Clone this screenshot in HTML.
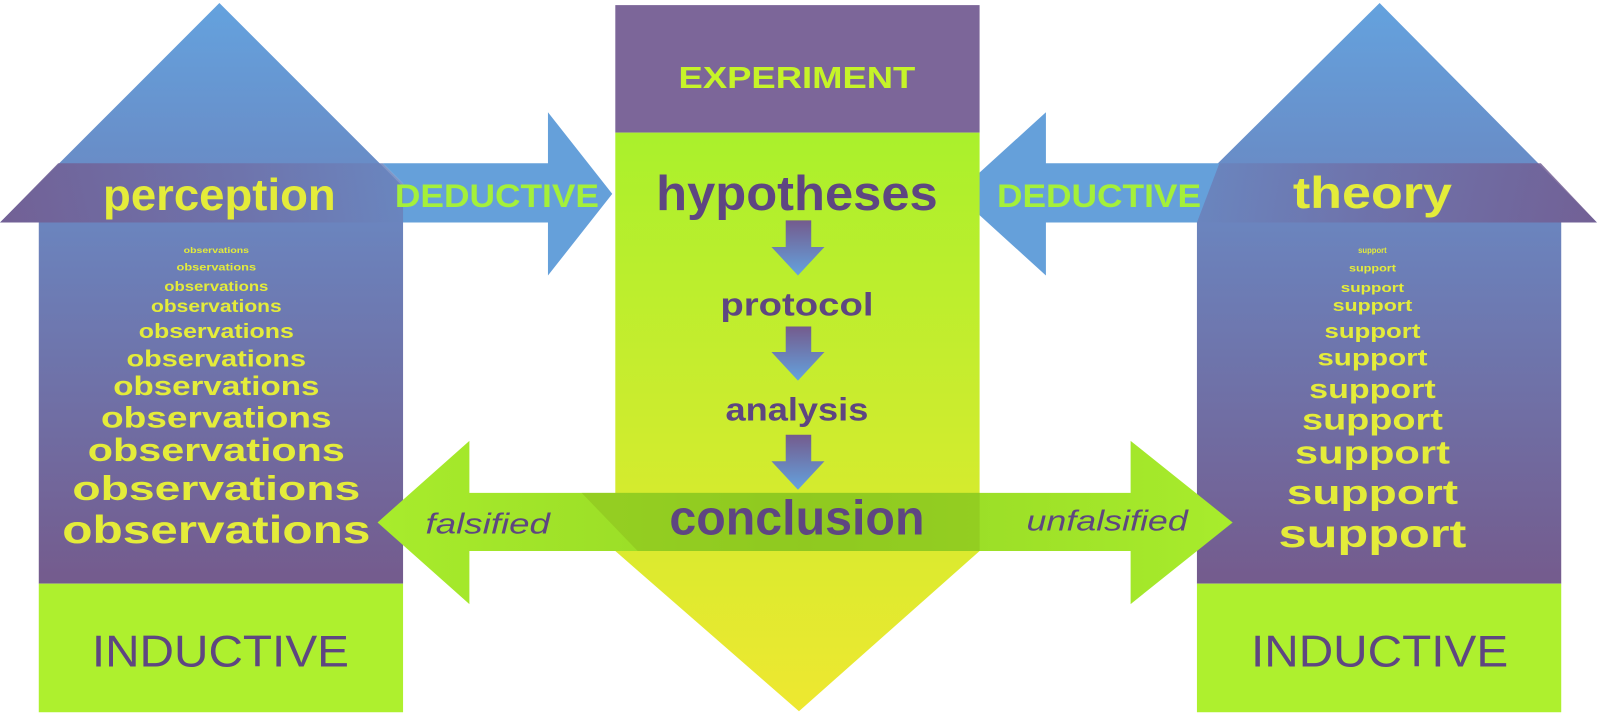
<!DOCTYPE html>
<html><head><meta charset="utf-8"><style>
html,body{margin:0;padding:0;background:#fff;width:1600px;height:715px;overflow:hidden}
svg{display:block}
text{font-family:"Liberation Sans",sans-serif;font-weight:bold}
text.n{font-weight:normal}
text.i{font-weight:normal;font-style:italic}
</style></head><body>
<svg width="1600" height="715" viewBox="0 0 1568 700.7" preserveAspectRatio="none" xmlns="http://www.w3.org/2000/svg">
<defs>
<linearGradient id="bp" x1="0" y1="0" x2="0" y2="1"><stop offset="0" stop-color="#64a2de"/><stop offset="0.45" stop-color="#6c7fb8"/><stop offset="1" stop-color="#745b8d"/></linearGradient>
<linearGradient id="band" x1="0" y1="0" x2="1" y2="0"><stop offset="0" stop-color="#735a8e"/><stop offset="0.6" stop-color="#6f70a8"/><stop offset="1" stop-color="#6a85be"/></linearGradient>
<linearGradient id="bandR" x1="1" y1="0" x2="0" y2="0"><stop offset="0" stop-color="#735a8e"/><stop offset="0.6" stop-color="#6f70a8"/><stop offset="1" stop-color="#6a85be"/></linearGradient>
<linearGradient id="gy" x1="0" y1="0" x2="0" y2="1"><stop offset="0" stop-color="#aaf02c"/><stop offset="1" stop-color="#eee830"/></linearGradient>
<linearGradient id="sm" x1="0" y1="0" x2="0" y2="1"><stop offset="0" stop-color="#745b8d"/><stop offset="1" stop-color="#64a2de"/></linearGradient>
<linearGradient id="gh" x1="0" y1="0" x2="1" y2="0"><stop offset="0" stop-color="#a8ec2c"/><stop offset="0.5" stop-color="#94d624"/><stop offset="1" stop-color="#a8ec2c"/></linearGradient>
</defs>
<polygon points="215,3 430,218 395,218 395,572 38,572 38,218 0,218" fill="url(#bp)"/>
<polygon points="57,160 375,160 395,180 395,218 0,218" fill="url(#band)" opacity="0.85"/>
<rect x="38" y="572" width="357" height="126" fill="#aef02e"/>
<polygon points="1352,3 1565,218 1530,218 1530,572 1173,572 1173,218 1135,218" fill="url(#bp)"/>
<polygon points="1195,160 1510,160 1565,218 1173,218" fill="url(#bandR)" opacity="0.85"/>
<rect x="1173" y="572" width="357" height="126" fill="#aef02e"/>
<polygon points="375,160 537,160 537,110 600,190 537,270 537,218 395,218 395,180" fill="#65a0da"/>
<polygon points="1195,160 1025,160 1025,110 937,190 1025,270 1025,218 1173,218" fill="#65a0da"/>
<rect x="603" y="5" width="357" height="125" fill="#7c6699"/>
<polygon points="603,130 960,130 960,540 783,697 603,540" fill="url(#gy)"/>
<polygon points="370,512 460,432 460,483 1108,483 1108,432 1208,512 1108,592 1108,540 460,540 460,592" fill="url(#gh)"/>
<polygon points="570,483 960,483 960,540 625,540" fill="#8cbf1e" opacity="0.55"/>
<g fill="url(#sm)">
<polygon points="770,216 795,216 795,242 808,242 782,270 756,242 770,242"/>
<polygon points="770,320 795,320 795,345 808,345 782,373 756,345 770,345"/>
<polygon points="770,426 795,426 795,452 808,452 782,480 756,452 770,452"/>
</g>
<text x="215" y="206" text-anchor="middle" font-size="44" fill="#e4ec3a" textLength="228" lengthAdjust="spacingAndGlyphs">perception</text>
<text x="487" y="203" text-anchor="middle" font-size="32" fill="#a4f03a" textLength="200" lengthAdjust="spacingAndGlyphs">DEDUCTIVE</text>
<text x="1077" y="203" text-anchor="middle" font-size="32" fill="#a4f03a" textLength="200" lengthAdjust="spacingAndGlyphs">DEDUCTIVE</text>
<text x="1345" y="204" text-anchor="middle" font-size="44" fill="#e4ec3a" textLength="156" lengthAdjust="spacingAndGlyphs">theory</text>
<text x="781" y="86" text-anchor="middle" font-size="30" fill="#c6f428" textLength="232" lengthAdjust="spacingAndGlyphs">EXPERIMENT</text>
<text x="781" y="206" text-anchor="middle" font-size="48" fill="#5e4681" textLength="276" lengthAdjust="spacingAndGlyphs">hypotheses</text>
<text x="781" y="309" text-anchor="middle" font-size="32" fill="#5e4681" textLength="150" lengthAdjust="spacingAndGlyphs">protocol</text>
<text x="781" y="412" text-anchor="middle" font-size="32" fill="#5e4681" textLength="140" lengthAdjust="spacingAndGlyphs">analysis</text>
<text x="781" y="524" text-anchor="middle" font-size="48" fill="#5e4681" textLength="250" lengthAdjust="spacingAndGlyphs">conclusion</text>
<text class="i" x="478" y="523" text-anchor="middle" font-size="28" fill="#5e4681" textLength="122" lengthAdjust="spacingAndGlyphs">falsified</text>
<text class="i" x="1085" y="520" text-anchor="middle" font-size="28" fill="#5e4681" textLength="158" lengthAdjust="spacingAndGlyphs">unfalsified</text>
<text class="n" x="216" y="653" text-anchor="middle" font-size="44" fill="#5e4681" textLength="252" lengthAdjust="spacingAndGlyphs">INDUCTIVE</text>
<text class="n" x="1352" y="653" text-anchor="middle" font-size="44" fill="#5e4681" textLength="252" lengthAdjust="spacingAndGlyphs">INDUCTIVE</text>
<g fill="#e4ec3a" text-anchor="middle">
<text x="212" y="248" font-size="8" textLength="64" lengthAdjust="spacingAndGlyphs">observations</text>
<text x="212" y="265" font-size="10" textLength="78" lengthAdjust="spacingAndGlyphs">observations</text>
<text x="212" y="285" font-size="14" textLength="102" lengthAdjust="spacingAndGlyphs">observations</text>
<text x="212" y="306" font-size="17" textLength="128" lengthAdjust="spacingAndGlyphs">observations</text>
<text x="212" y="331" font-size="20" textLength="152" lengthAdjust="spacingAndGlyphs">observations</text>
<text x="212" y="359" font-size="23" textLength="176" lengthAdjust="spacingAndGlyphs">observations</text>
<text x="212" y="387" font-size="26" textLength="202" lengthAdjust="spacingAndGlyphs">observations</text>
<text x="212" y="419" font-size="29" textLength="226" lengthAdjust="spacingAndGlyphs">observations</text>
<text x="212" y="452" font-size="32" textLength="252" lengthAdjust="spacingAndGlyphs">observations</text>
<text x="212" y="490" font-size="34" textLength="282" lengthAdjust="spacingAndGlyphs">observations</text>
<text x="212" y="532" font-size="38" textLength="302" lengthAdjust="spacingAndGlyphs">observations</text>
<text x="1345" y="248" font-size="8" textLength="28" lengthAdjust="spacingAndGlyphs">support</text>
<text x="1345" y="266" font-size="10" textLength="46" lengthAdjust="spacingAndGlyphs">support</text>
<text x="1345" y="286" font-size="13" textLength="62" lengthAdjust="spacingAndGlyphs">support</text>
<text x="1345" y="305" font-size="16" textLength="78" lengthAdjust="spacingAndGlyphs">support</text>
<text x="1345" y="331" font-size="20" textLength="94" lengthAdjust="spacingAndGlyphs">support</text>
<text x="1345" y="358" font-size="23" textLength="108" lengthAdjust="spacingAndGlyphs">support</text>
<text x="1345" y="390" font-size="26" textLength="124" lengthAdjust="spacingAndGlyphs">support</text>
<text x="1345" y="421" font-size="29" textLength="138" lengthAdjust="spacingAndGlyphs">support</text>
<text x="1345" y="454" font-size="32" textLength="152" lengthAdjust="spacingAndGlyphs">support</text>
<text x="1345" y="494" font-size="34" textLength="168" lengthAdjust="spacingAndGlyphs">support</text>
<text x="1345" y="536" font-size="38" textLength="184" lengthAdjust="spacingAndGlyphs">support</text>
</g>
</svg>
</body></html>
